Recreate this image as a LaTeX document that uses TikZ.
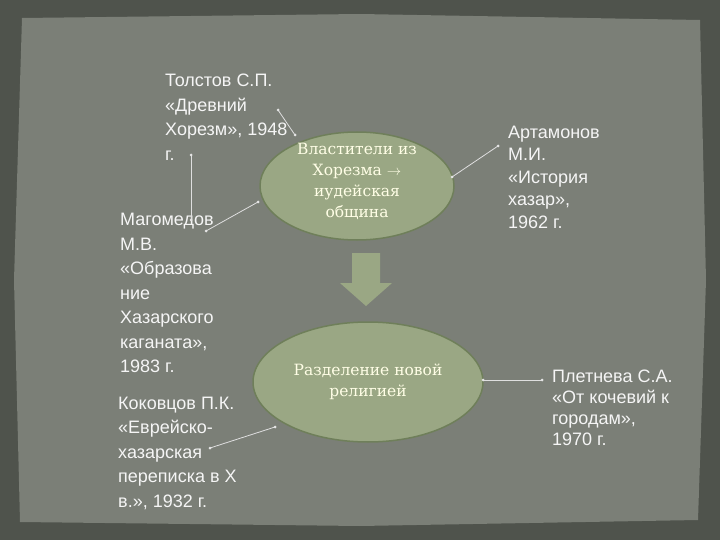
\documentclass[tikz,border=0pt]{standalone}
\usepackage{fontspec}
\setmainfont{Liberation Sans}
\newfontfamily\serifcyr{DejaVu Serif}
\begin{document}
\begin{tikzpicture}[x=1pt,y=-1pt,
  txt/.style={anchor=west,align=left,text=white!92!gray,font=\fontsize{18}{24.5}\selectfont,inner sep=0pt},
  ell/.style={fill=lightell,draw=darkell,line width=1.5pt},
  conn/.style={draw=white!75!gray,line width=0.8pt},
  etxt/.style={text=white!90!yellow,font=\serifcyr\fontsize{15.5}{21}\selectfont,align=center}]
\definecolor{bgdark}{HTML}{4F534C}
\definecolor{bglight}{HTML}{7B7F77}
\definecolor{darkell}{HTML}{6F7F5A}
\definecolor{lightell}{HTML}{9AA784}
\fill[bgdark] (0,0) rectangle (720,540);
\useasboundingbox (0,0) rectangle (720,540);
\fill[bglight] (22,18) -- (360,14) -- (700,20) -- (706,280) -- (698,520) -- (360,526) -- (20,522) -- (14,280) -- cycle;
% ellipses
\draw[ell] (357,186) ellipse [x radius=97,y radius=54];
\draw[ell] (368,382) ellipse [x radius=115,y radius=60];
\node[etxt] (e1) at (357,181) {Властители из\\Хорезма $\rightarrow$\\иудейская\\община};
\node[etxt] (e2) at (368,382) {Разделение новой\\религией};
% big arrow
\fill[lightell] (352,253) -- (380,253) -- (380,283) -- (392,283) -- (366,306) -- (340,283) -- (352,283) -- cycle;
% texts
\node[txt] (tol) at (165,117) {Толстов С.П.\\«Древний\\Хорезм», 1948\\г.};
\node[txt] (mag) at (120,293) {Магомедов\\М.В.\\«Образова\\ние\\Хазарского\\каганата»,\\1983 г.};
\node[txt] (kok) at (118,453) {Коковцов П.К.\\«Еврейско-\\хазарская\\переписка в Х\\в.», 1932 г.};
\node[txt,font=\fontsize{18}{22.5}\selectfont] (art) at (508,177) {Артамонов\\М.И.\\«История\\хазар»,\\1962 г.};
\node[txt,font=\fontsize{18}{21}\selectfont] (ple) at (552,408) {Плетнева С.А.\\«От кочевий к\\городам»,\\1970 г.};
% connectors
\coordinate (t1) at (278,110); \coordinate (t2) at (295,135);
\coordinate (m1) at (206,231); \coordinate (m2) at (258,202);
\coordinate (v1) at (191,155); \coordinate (v2) at (191,220);
\coordinate (a1) at (452,177); \coordinate (a2) at (498,146);
\coordinate (p1) at (483,380); \coordinate (p2) at (542,380);
\coordinate (k1) at (275,427); \coordinate (k2) at (210,448);
\foreach \a/\b in {t1/t2,m1/m2,v1/v2,a1/a2,p1/p2,k1/k2}{
  \draw[conn] (\a) -- (\b);
  \fill[white!80!gray] (\a) circle (1.5);
  \fill[white!80!gray] (\b) circle (1.5);}
\end{tikzpicture}
\end{document}
